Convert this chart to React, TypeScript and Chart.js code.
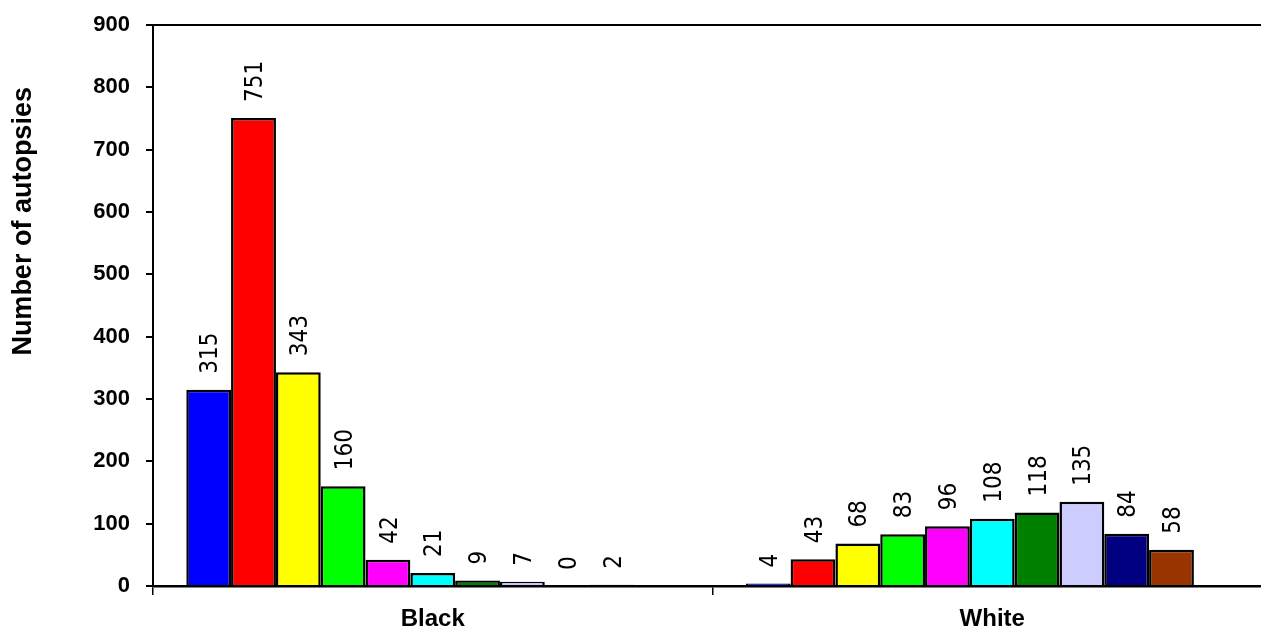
import React, { useEffect, useRef } from "react";
import { Chart, registerables } from "chart.js";

Chart.register(...registerables);

// Categories (x axis)
const categories = ["Black", "White"];

// Series values, one array per series: [Black, White]
const series1 = [315, 4];
const series2 = [751, 43];
const series3 = [343, 68];
const series4 = [160, 83];
const series5 = [42, 96];
const series6 = [21, 108];
const series7 = [9, 118];
const series8 = [7, 135];
const series9 = [0, 84];
const series10 = [2, 58];
const series11: (number | null)[] = [null, null];

const seriesNames = [
  "Series 1", "Series 2", "Series 3", "Series 4", "Series 5", "Series 6",
  "Series 7", "Series 8", "Series 9", "Series 10", "Series 11",
];
const seriesColors = [
  "#0000FF", "#FF0000", "#FFFF00", "#00FF00", "#FF00FF", "#00FFFF",
  "#008000", "#CCCCFF", "#000080", "#993300", "#FF8080",
];

// Y axis ticks
const yMin = 0;
const yMax = 900;
const yStep = 100;
const yTitle = "Number of autopsies";

const FONT = "'Liberation Sans', Arial, sans-serif";
const NARROW = "'Liberation Sans Narrow', 'Arial Narrow', 'DejaVu Sans Condensed', sans-serif";

const dataLabelPlugin = {
  id: "dataLabels",
  afterDatasetsDraw(chart: any) {
    const ctx = chart.ctx;
    const size = 24;
    ctx.save();
    ctx.font = `normal ${size}px ${NARROW}`;
    ctx.fillStyle = "#000";
    chart.data.datasets.forEach((ds: any, i: number) => {
      const meta = chart.getDatasetMeta(i);
      meta.data.forEach((el: any, j: number) => {
        const v = ds.data[j];
        if (v === null || v === undefined) return;
        ctx.save();
        ctx.translate(el.x, el.y - 16);
        ctx.rotate(-Math.PI / 2);
        ctx.textAlign = "left";
        ctx.textBaseline = "alphabetic";
        ctx.fillText(String(v), 0, size * 0.358);
        ctx.restore();
      });
    });
    ctx.restore();
  },
};

const yTitlePlugin = {
  id: "yTitle",
  afterDraw(chart: any) {
    const ctx = chart.ctx;
    const area = chart.chartArea;
    const cy = area.top + (area.bottom - area.top) * 0.35;
    ctx.save();
    ctx.translate(24, cy);
    ctx.rotate(-Math.PI / 2);
    ctx.font = `bold 27px ${FONT}`;
    ctx.fillStyle = "#000";
    ctx.textAlign = "center";
    ctx.textBaseline = "middle";
    ctx.fillText(yTitle, 0, 0);
    ctx.restore();
  },
};

export default function App() {
  const canvasRef = useRef<HTMLCanvasElement | null>(null);

  useEffect(() => {
    if (!canvasRef.current) return;
    const all = [series1, series2, series3, series4, series5, series6, series7, series8, series9, series10, series11];
    const chart = new Chart(canvasRef.current, {
      type: "bar",
      data: {
        labels: categories,
        datasets: all.map((d, i) => ({
          label: seriesNames[i],
          data: d,
          backgroundColor: seriesColors[i],
          borderColor: "#000",
          borderWidth: 2.5,
          borderSkipped: "start",
          categoryPercentage: 0.881,
          barPercentage: 1.0,
        })),
      },
      options: {
        animation: false,
        responsive: false,
        devicePixelRatio: 1,
        layout: { padding: { top: 25, right: 8, left: 0, bottom: 0 } },
        plugins: {
          legend: { display: false },
          tooltip: { enabled: false },
          title: { display: false },
        },
        scales: {
          x: {
            offset: true,
            grid: {
              display: true,
              offset: true,
              drawOnChartArea: false,
              drawTicks: true,
              tickLength: 9,
              color: "#000",
              tickColor: "#000",
              lineWidth: 1.5,
            },
            border: { display: true, color: "#000", width: 2.5 },
            ticks: {
              color: "#000",
              font: { family: FONT, size: 24, weight: "bold" },
              padding: 10,
              maxRotation: 0,
            },
            afterFit: (s: any) => {
              s.height = 43;
            },
          },
          y: {
            min: yMin,
            max: yMax,
            grid: {
              display: true,
              drawTicks: true,
              tickLength: 7,
              color: (c: any) => (c.tick && c.tick.value === yMax ? "#000" : "rgba(0,0,0,0)"),
              tickColor: "#000",
              lineWidth: 2,
            },
            border: { display: true, color: "#000", width: 2 },
            ticks: {
              stepSize: yStep,
              color: "#000",
              font: { family: FONT, size: 22, weight: "bold" },
              padding: 16,
            },
            afterFit: (s: any) => {
              s.width = 153;
              s.paddingTop = 0;
              s.paddingBottom = 0;
            },
          },
        },
      },
      plugins: [dataLabelPlugin, yTitlePlugin],
    });
    return () => chart.destroy();
  }, []);

  return (
    <div style={{ position: "absolute", left: 0, top: 0, width: 1261, height: 629, overflow: "hidden", background: "#fff" }}>
      <canvas ref={canvasRef} width={1280} height={629} style={{ display: "block", width: 1280, height: 629 }} />
    </div>
  );
}
